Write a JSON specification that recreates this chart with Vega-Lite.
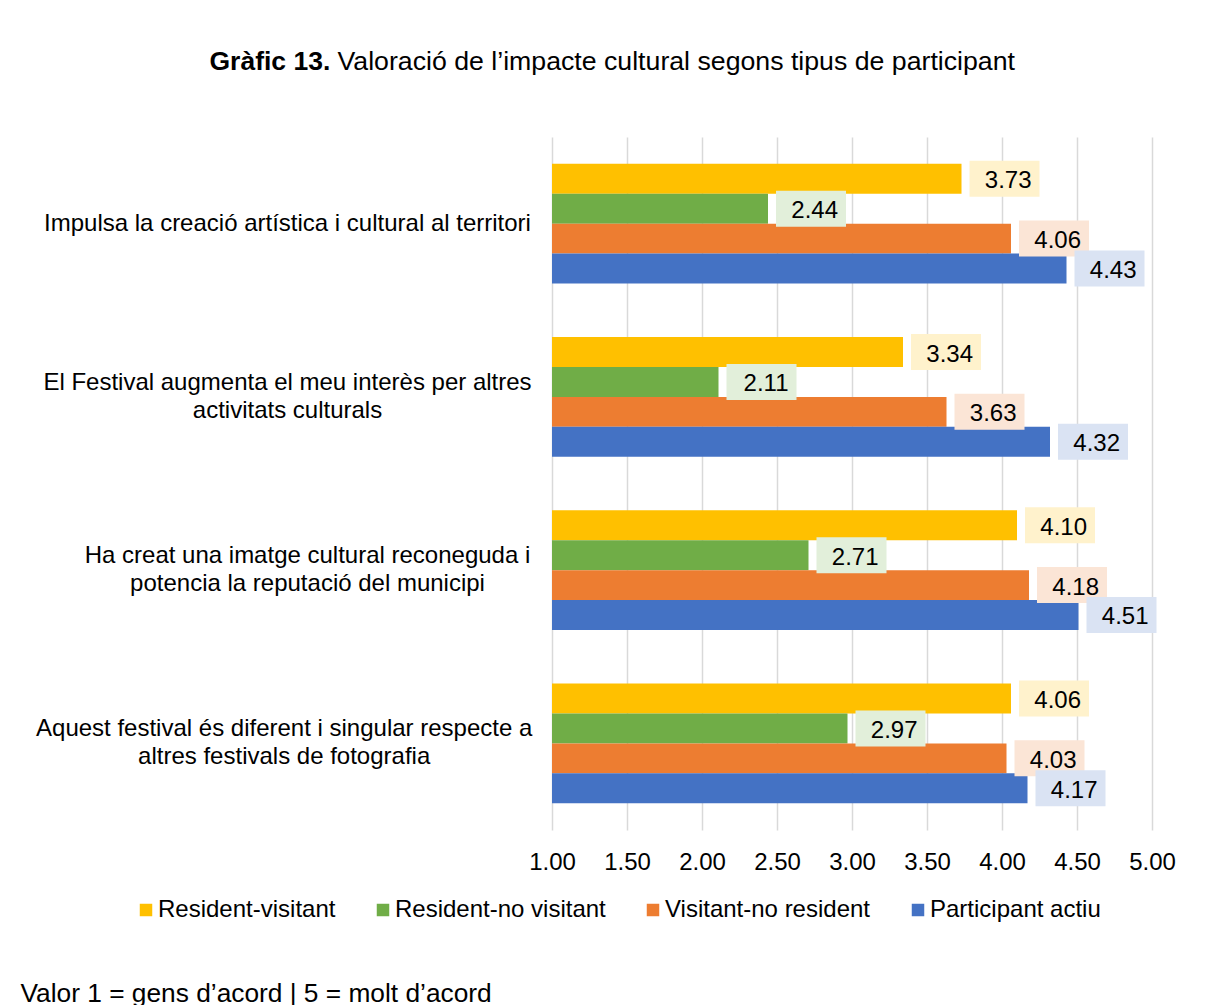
{
  "$schema": "https://vega.github.io/schema/vega-lite/v6.json",
  "width": 600,
  "height": 693,
  "autosize": {"type": "none"},
  "padding": {"left": 552, "top": 137, "right": 54, "bottom": 175},
  "background": "white",
  "config": {"font": "Liberation Sans", "view": {"stroke": null}},
  "data": {
    "values": [
      {"statement": "Impulsa la creació artística i cultural al territori", "group": "Resident-visitant", "score": 3.73},
      {"statement": "Impulsa la creació artística i cultural al territori", "group": "Resident-no visitant", "score": 2.44},
      {"statement": "Impulsa la creació artística i cultural al territori", "group": "Visitant-no resident", "score": 4.06},
      {"statement": "Impulsa la creació artística i cultural al territori", "group": "Participant actiu", "score": 4.43},
      {"statement": "El Festival augmenta el meu interès per altres activitats culturals", "group": "Resident-visitant", "score": 3.34},
      {"statement": "El Festival augmenta el meu interès per altres activitats culturals", "group": "Resident-no visitant", "score": 2.11},
      {"statement": "El Festival augmenta el meu interès per altres activitats culturals", "group": "Visitant-no resident", "score": 3.63},
      {"statement": "El Festival augmenta el meu interès per altres activitats culturals", "group": "Participant actiu", "score": 4.32},
      {"statement": "Ha creat una imatge cultural reconeguda i potencia la reputació del municipi", "group": "Resident-visitant", "score": 4.10},
      {"statement": "Ha creat una imatge cultural reconeguda i potencia la reputació del municipi", "group": "Resident-no visitant", "score": 2.71},
      {"statement": "Ha creat una imatge cultural reconeguda i potencia la reputació del municipi", "group": "Visitant-no resident", "score": 4.18},
      {"statement": "Ha creat una imatge cultural reconeguda i potencia la reputació del municipi", "group": "Participant actiu", "score": 4.51},
      {"statement": "Aquest festival és diferent i singular respecte a altres festivals de fotografia", "group": "Resident-visitant", "score": 4.06},
      {"statement": "Aquest festival és diferent i singular respecte a altres festivals de fotografia", "group": "Resident-no visitant", "score": 2.97},
      {"statement": "Aquest festival és diferent i singular respecte a altres festivals de fotografia", "group": "Visitant-no resident", "score": 4.03},
      {"statement": "Aquest festival és diferent i singular respecte a altres festivals de fotografia", "group": "Participant actiu", "score": 4.17}
    ]
  },
  "encoding": {
    "y": {
      "field": "statement",
      "type": "nominal",
      "sort": [
        "Impulsa la creació artística i cultural al territori",
        "El Festival augmenta el meu interès per altres activitats culturals",
        "Ha creat una imatge cultural reconeguda i potencia la reputació del municipi",
        "Aquest festival és diferent i singular respecte a altres festivals de fotografia"
      ],
      "scale": {"paddingInner": 0.31, "paddingOuter": 0.155},
      "axis": {
        "title": "Gràfic 13.",
        "titleAngle": 0,
        "titleX": -343,
        "titleY": -68,
        "titleAlign": "left",
        "titleBaseline": "alphabetic",
        "titleFontSize": 26.5,
        "titleFontWeight": "bold",
        "titleColor": "black",
        "labelFontSize": 24,
        "labelColor": "black",
        "labelAlign": "center",
        "labelBaseline": {"condition": {"test": "datum.value == 'Impulsa la creació artística i cultural al territori'", "value": "middle"}, "value": "line-bottom"},
        "labelPadding": 265,
        "labelLineHeight": 28,
        "labelLimit": 0,
        "ticks": false,
        "domain": false,
        "grid": false,
        "labelExpr": "datum.value == 'El Festival augmenta el meu interès per altres activitats culturals' ? ['El Festival augmenta el meu interès per altres', 'activitats culturals'] : datum.value == 'Ha creat una imatge cultural reconeguda i potencia la reputació del municipi' ? ['\u200b\u00a0\u00a0\u00a0\u00a0\u00a0\u00a0Ha creat una imatge cultural reconeguda i', '\u200b\u00a0\u00a0\u00a0\u00a0\u00a0\u00a0potencia la reputació del municipi'] : datum.value == 'Aquest festival és diferent i singular respecte a altres festivals de fotografia' ? ['Aquest festival és diferent i singular respecte a\u00a0\u200b', 'altres festivals de fotografia\u00a0\u200b'] : datum.value"
      }
    },
    "yOffset": {
      "field": "group",
      "type": "nominal",
      "sort": ["Resident-visitant", "Resident-no visitant", "Visitant-no resident", "Participant actiu"],
      "scale": {"paddingInner": 0, "paddingOuter": 0}
    }
  },
  "layer": [
    {
      "mark": {"type": "bar"},
      "encoding": {
        "x": {
          "field": "score",
          "type": "quantitative",
          "scale": {"domain": [1, 5], "zero": false, "nice": false},
          "axis": {
            "orient": "bottom",
            "values": [1, 1.5, 2, 2.5, 3, 3.5, 4, 4.5, 5],
            "format": ".2f",
            "labelFontSize": 24,
            "labelColor": "black",
            "labelPadding": 20,
            "labelFlush": false,
            "labelOverlap": false,
            "ticks": false,
            "domain": false,
            "grid": true,
            "gridColor": "#d9d9d9",
            "gridWidth": 1.5,
            "title": "Valor 1 = gens d’acord | 5 = molt d’acord",
            "titleX": -532,
            "titleY": 171,
            "titleAlign": "left",
            "titleBaseline": "alphabetic",
            "titleFontSize": 26.3,
            "titleFontWeight": "normal",
            "titleColor": "black"
          }
        },
        "x2": {"datum": 1},
        "color": {
          "field": "group",
          "type": "nominal",
          "scale": {
            "domain": ["Resident-visitant", "Resident-no visitant", "Visitant-no resident", "Participant actiu"],
            "range": ["#FFC000", "#70AD47", "#ED7D31", "#4472C4"]
          },
          "legend": {
            "orient": "none",
            "legendX": -418,
            "legendY": 761,
            "direction": "horizontal",
            "title": null,
            "symbolType": "square",
            "symbolSize": 156,
            "symbolStrokeWidth": 0,
            "labelFontSize": 24,
            "labelColor": "black",
            "labelOffset": 0,
            "columnPadding": 35,
            "padding": 0,
            "labelLimit": 0
          }
        }
      }
    },
    {
      "mark": {"type": "bar", "xOffset": 8, "x2Offset": 78, "height": 36},
      "encoding": {
        "x": {
          "field": "score",
          "type": "quantitative",
          "axis": {
            "orient": "top",
            "labels": false,
            "ticks": false,
            "domain": false,
            "grid": false,
            "title": "Valoració de l’impacte cultural segons tipus de participant",
            "titleX": -215,
            "titleY": -68,
            "titleAlign": "left",
            "titleBaseline": "alphabetic",
            "titleFontSize": 26.7,
            "titleFontWeight": "normal",
            "titleColor": "black"
          }
        },
        "x2": {"field": "score"},
        "fill": {
          "field": "group",
          "type": "nominal",
          "scale": {
            "domain": ["Resident-visitant", "Resident-no visitant", "Visitant-no resident", "Participant actiu"],
            "range": ["#FFF2CC", "#E2EFDA", "#FBE5D6", "#DAE3F3"]
          },
          "legend": null
        }
      }
    },
    {
      "mark": {"type": "text", "align": "right", "baseline": "middle", "dx": 70, "dy": 2.5, "fontSize": 24, "color": "black"},
      "encoding": {
        "x": {"field": "score", "type": "quantitative", "axis": null},
        "text": {"field": "score", "type": "quantitative", "format": ".2f"}
      }
    }
  ],
  "resolve": {"axis": {"x": "independent"}}
}
